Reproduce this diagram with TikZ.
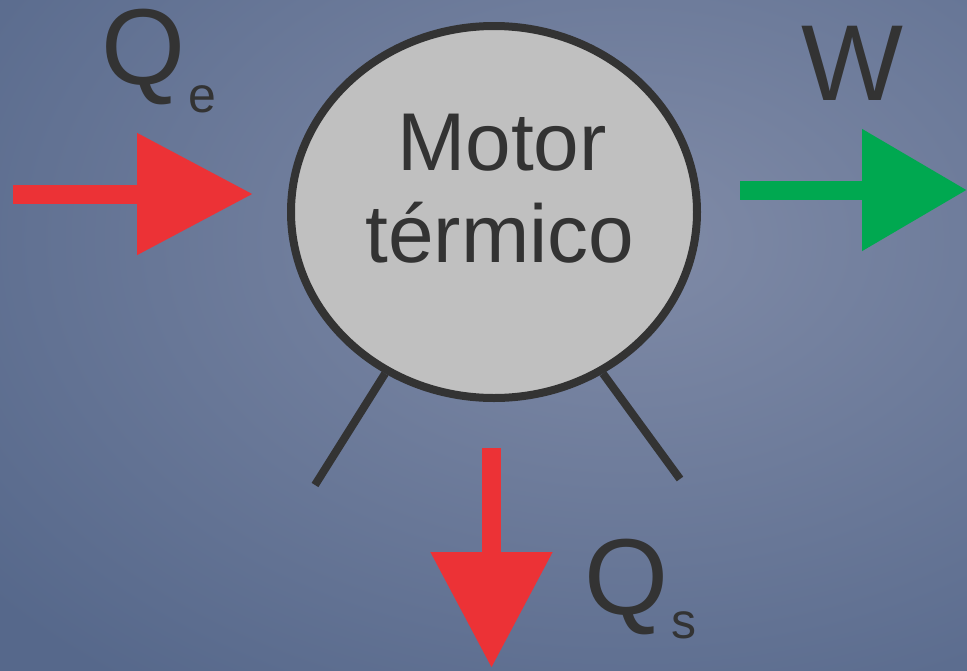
\documentclass[tikz,border=0pt]{standalone}
\usepackage{fontspec}
\setmainfont{Liberation Sans}
\usepackage{xcolor}
\usepackage{tikz}
\usetikzlibrary{shapes.geometric,arrows.meta,positioning}

\definecolor{bgin}{RGB}{128,139,167}
\definecolor{bgout}{RGB}{86,104,139}
\definecolor{ink}{RGB}{51,51,51}
\definecolor{heatred}{RGB}{236,50,54}
\definecolor{workgreen}{RGB}{0,168,80}
\definecolor{engine}{RGB}{192,192,192}

\begin{document}
\begin{tikzpicture}[x=1pt, y=-1pt,
  engine/.style    ={ellipse, draw=ink, fill=engine, line width=8pt,
                     minimum width=406pt, minimum height=372pt,
                     inner sep=0pt},
  enginetext/.style={anchor=base, inner sep=0pt, text=ink,
                     font=\fontsize{82}{92}\selectfont},
  label/.style     ={anchor=base west, inner sep=0pt, text=ink},
  big/.style       ={font=\fontsize{108}{110}\selectfont},
  sub/.style       ={font=\fontsize{50}{52}\selectfont},
  heat/.style      ={-{Triangle[length=116pt, width=117pt]},
                     line width=19pt, heatred},
  work/.style      ={-{Triangle[length=105pt, width=117pt]},
                     line width=19pt, workgreen},
  leg/.style       ={line width=8pt, ink},
]

% === Background ===
\useasboundingbox (0,0) rectangle (967,670);
\begin{scope}
  \clip (0,0) rectangle (967,670);
  \shade[inner color=bgin, outer color=bgout]
    (-200,-320) rectangle (1450,800);
\end{scope}

% === Engine ===
\node[engine] (motor) at (494,212) {};
\node[enginetext] (motorA) at (502,170) {Motor};
\node[enginetext] (motorB) at (500,262) {t\'ermico};

% legs
\coordinate (legL) at (315,485);
\coordinate (legR) at (680,479);
\draw[leg] (motor.236) -- (legL);
\draw[leg] (motor.304) -- (legR);

% === Heat and work flows ===
\coordinate (qeStart) at (13,194);
\coordinate (qeEnd)   at (253,194);
\coordinate (wStart)  at (740,190);
\coordinate (wEnd)    at (967,190);
\coordinate (qsStart) at (491.5,448);
\coordinate (qsEnd)   at (491.5,668);

\draw[heat] (qeStart) -- (qeEnd);
\draw[work] (wStart) -- (wEnd);
\draw[heat] (qsStart) -- (qsEnd);

% === Labels ===
\node[label, big] (qe) at (101,84) {Q};
\node[label, sub] (qeSub) at (qe.base east) [yshift=-28pt, xshift=3pt] {e};
\node[label, big] (w) at (801,100) {W};
\node[label, big] (qs) at (584,614) {Q};
\node[label, sub] (qsSub) at (qs.base east) [yshift=-24pt, xshift=3pt] {s};

\end{tikzpicture}
\end{document}
